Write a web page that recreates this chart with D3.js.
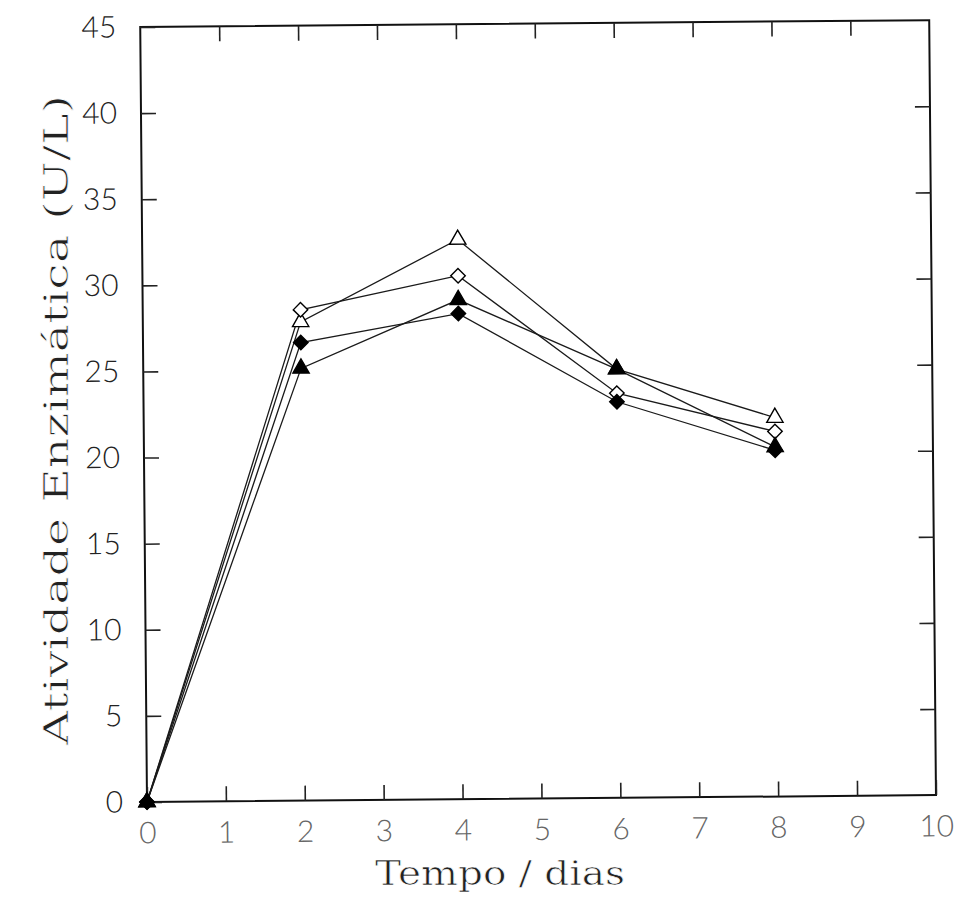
<!DOCTYPE html>
<html>
<head>
<meta charset="utf-8">
<script src="https://cdn.jsdelivr.net/npm/d3@7"></script>
<style>
  body { margin: 0; background: #fff; }
  svg { display: block; }
</style>
</head>
<body>
<svg id="chart" width="957" height="921"></svg>
<script>
// Sampling days
const days = [0, 2, 4, 6, 8];

// Enzyme activity (U/L) per series
const openTriangle   = [0, 27.8, 32.5, 24.9, 22.0];
const openDiamond    = [0, 28.5, 30.4, 23.5, 21.2];
const filledTriangle = [0, 25.1, 29.0, 24.9, 20.3];
const filledDiamond  = [0, 26.6, 28.2, 23.0, 20.1];

// Axis ticks
const xTicks = [0, 1, 2, 3, 4, 5, 6, 7, 8, 9, 10];
const yTicks = [0, 5, 10, 15, 20, 25, 30, 35, 40, 45];

const xTitle = "Tempo / dias";
const yTitle = "Atividade Enzimática (U/L)";

const series = [
  { name: "openTriangle",   values: openTriangle,   shape: "triangle", filled: false },
  { name: "openDiamond",    values: openDiamond,    shape: "diamond",  filled: false },
  { name: "filledTriangle", values: filledTriangle, shape: "triangle", filled: true },
  { name: "filledDiamond",  values: filledDiamond,  shape: "diamond",  filled: true }
];

const svg = d3.select("#chart");

const x = d3.scaleLinear().domain([0, 10]).range([147, 936]);
const y = d3.scaleLinear().domain([0, 45]).range([802, 27]);

// whole plot sits very slightly tilted
const plot = svg.append("g").attr("transform", "rotate(-0.5, 147, 802)");

const tickFont = "'DejaVu Sans ExtraLight', 'Lato', 'Liberation Sans', sans-serif";
const titleFont = "'DejaVu Serif', 'Liberation Serif', serif";
const tickLen = 15;

// Frame
plot.append("rect")
  .attr("x", x(0)).attr("y", y(45))
  .attr("width", x(10) - x(0)).attr("height", y(0) - y(45))
  .attr("fill", "none").attr("stroke", "#111").attr("stroke-width", 2);

function styleAxis(g, color) {
  g.select(".domain").remove();
  g.selectAll(".tick line").attr("stroke", "#222").attr("stroke-width", 1.6);
  g.selectAll(".tick text")
    .attr("font-family", tickFont)
    .attr("font-weight", 300)
    .attr("font-size", 30)
    .attr("fill", color);
}

plot.append("g")
  .attr("transform", `translate(${x(0)},0)`)
  .call(d3.axisLeft(y).tickValues(yTicks).tickSizeInner(-tickLen).tickSizeOuter(0).tickPadding(24))
  .call(g => styleAxis(g, "#222"));

plot.append("g")
  .attr("transform", `translate(0,${y(0)})`)
  .call(d3.axisBottom(x).tickValues(xTicks).tickSizeInner(-tickLen).tickSizeOuter(0).tickPadding(20))
  .call(g => styleAxis(g, "#666"));

plot.append("g")
  .attr("transform", `translate(0,${y(45)})`)
  .call(d3.axisTop(x).tickValues(xTicks.slice(1, -1)).tickSizeInner(-tickLen).tickSizeOuter(0).tickFormat(""))
  .call(g => styleAxis(g, "#222"));

plot.append("g")
  .attr("transform", `translate(${x(10)},0)`)
  .call(d3.axisRight(y).tickValues(yTicks.slice(1, -1)).tickSizeInner(-tickLen).tickSizeOuter(0).tickFormat(""))
  .call(g => styleAxis(g, "#222"));

// Lines
const line = d3.line().x((d, i) => x(days[i])).y(d => y(d));

plot.append("g").selectAll("path")
  .data(series)
  .join("path")
  .attr("d", s => line(s.values))
  .attr("fill", "none")
  .attr("stroke", "#1a1a1a")
  .attr("stroke-width", 1.3);

// Markers
const triangle = d3.symbol().type(d3.symbolTriangle).size(115);
const diamond = d3.symbol().type(d3.symbolSquare).size(105);

series.forEach(s => {
  plot.append("g").selectAll("path")
    .data(s.values)
    .join("path")
    .attr("d", s.shape === "triangle" ? triangle() : diamond())
    .attr("transform", (d, i) => `translate(${x(days[i])},${y(d)})` + (s.shape === "diamond" ? " rotate(45)" : ""))
    .attr("fill", s.filled ? "#000" : "#fff")
    .attr("stroke", "#000")
    .attr("stroke-width", 1.4);
});

// Axis titles (thin white outline lightens the serif strokes)
svg.append("text")
  .attr("x", 500).attr("y", 885)
  .attr("text-anchor", "middle")
  .attr("font-family", titleFont)
  .attr("font-size", 34)
  .attr("fill", "#222")
  .attr("stroke", "#fff")
  .attr("stroke-width", 0.7)
  .attr("textLength", 250)
  .attr("lengthAdjust", "spacingAndGlyphs")
  .text(xTitle);

svg.append("text")
  .attr("transform", "translate(68,420) rotate(-90)")
  .attr("text-anchor", "middle")
  .attr("font-family", titleFont)
  .attr("font-size", 33)
  .attr("fill", "#222")
  .attr("stroke", "#fff")
  .attr("stroke-width", 0.7)
  .attr("textLength", 650)
  .attr("lengthAdjust", "spacingAndGlyphs")
  .text(yTitle);
</script>
</body>
</html>
